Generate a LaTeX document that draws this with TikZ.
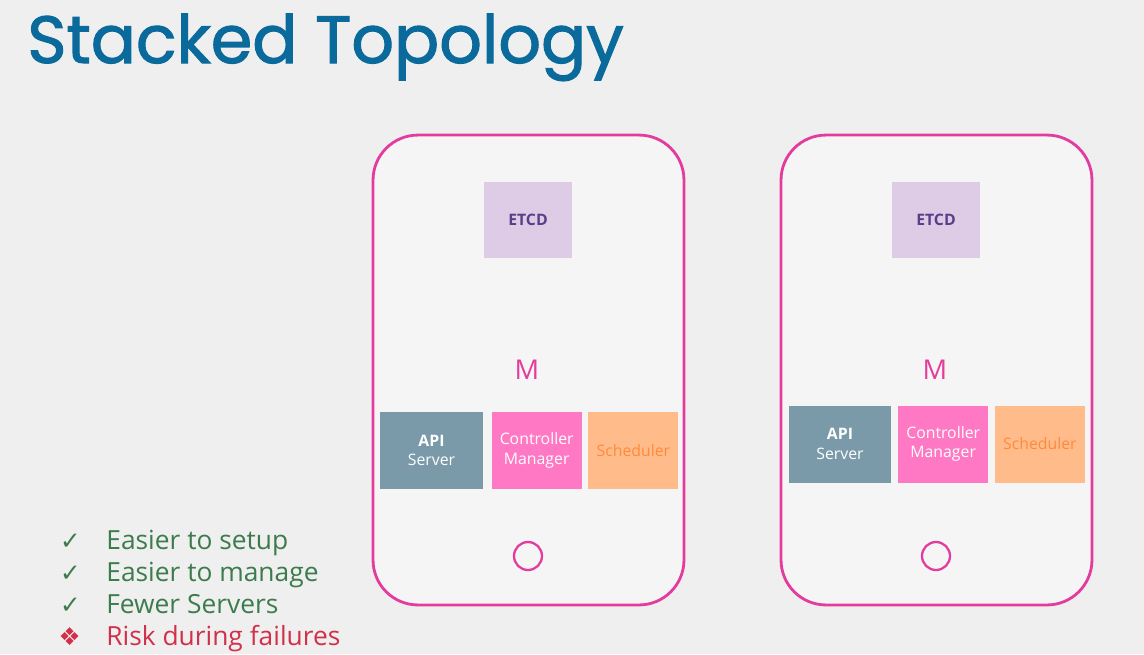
\documentclass[tikz,border=0pt]{standalone}
\usepackage{fontspec}
\setmainfont{Open Sans}
\newfontfamily\titlefont{Poppins}[FakeBold=1.6]
\newfontfamily\symfont{DejaVu Sans}
\usepackage{xcolor}
\usetikzlibrary{positioning}
\definecolor{slidebg}{HTML}{EFEFEF}
\definecolor{phonebg}{HTML}{F5F5F5}
\definecolor{magline}{HTML}{E43C9E}
\definecolor{titleblue}{HTML}{0A6A9C}
\definecolor{etcdfill}{HTML}{DECCE6}
\definecolor{etcdtext}{HTML}{5A3E8A}
\definecolor{apifill}{HTML}{7A9AAA}
\definecolor{ctrlfill}{HTML}{FF78C4}
\definecolor{schedfill}{HTML}{FFBC8A}
\definecolor{schedtext}{HTML}{FF8A3C}
\definecolor{goodgreen}{HTML}{3C7C4C}
\definecolor{riskred}{HTML}{D2304A}

\begin{document}
\begin{tikzpicture}[
    x=0.02cm,
    y=-0.02cm,
    phone/.style={draw=magline, line width=1.6pt, fill=phonebg, rounded corners=0.9cm, minimum width=6.22cm, minimum height=9.4cm},
    etcd/.style={fill=etcdfill, text=etcdtext, inner sep=0pt, minimum width=1.76cm, minimum height=1.52cm, font=\fontsize{9}{11}\selectfont\bfseries},
    part/.style={inner sep=0pt, minimum width=1.8cm, minimum height=1.54cm, align=center, font=\fontsize{9}{11}\selectfont},
    apisrv/.style={part, fill=apifill, text=white, minimum width=2.06cm},
    ctrlmgr/.style={part, fill=ctrlfill, text=white},
    sched/.style={part, fill=schedfill, text=schedtext},
    master/.style={text=magline, font=\fontsize{15.5}{18}\selectfont},
    button/.style={circle, draw=magline, line width=1.3pt, minimum size=0.56cm, inner sep=0pt},
    bullet/.style={anchor=base west, inner sep=0pt, font=\fontsize{15}{18}\selectfont},
    tick/.style={anchor=base east, inner sep=0pt, font=\symfont\fontsize{14}{16}\selectfont}
]
\useasboundingbox (0,0) rectangle (1144,654);
\fill[slidebg] (0,0) rectangle (1144,654);
\node[anchor=base west, inner sep=0pt, text=titleblue, font=\titlefont\fontsize{38}{44}\selectfont] (title) at (27,63) {Stacked Topology};
% left master
\node[phone] (p1) at (528.5,370) {};
\node[etcd] (e1) at (528,220) {ETCD};
\node[master] (m1) at (527,370) {M};
\node[apisrv] (a1) at (431.5,450.5) {\textbf{API}\\Server};
\node[ctrlmgr, right=0.16cm of a1] (c1) {Controller\\Manager};
\node[sched, right=0.12cm of c1] (s1) {Scheduler};
\node[button] (b1) at (528,556) {};
% right master
\node[phone] (p2) at (936.5,370) {};
\node[etcd] (e2) at (936,220) {ETCD};
\node[master] (m2) at (935,370) {M};
\node[apisrv] (a2) at (840,444) {\textbf{API}\\Server};
\node[ctrlmgr, right=0.12cm of a2] (c2) {Controller\\Manager};
\node[sched, right=0.12cm of c2] (s2) {Scheduler};
\node[button] (b2) at (936,556) {};
% pros and cons
\node[bullet, text=goodgreen] (l1) at (106,549) {Easier to setup};
\node[bullet, text=goodgreen] (l2) at (106,581) {Easier to manage};
\node[bullet, text=goodgreen] (l3) at (106,613) {Fewer Servers};
\node[bullet, text=riskred] (l4) at (106,645) {Risk during failures};
\foreach \n in {l1,l2,l3}
  \node[tick, text=goodgreen] at ([xshift=-0.5cm]\n.base west) {✓};
\node[tick, text=riskred] at ([xshift=-0.5cm]l4.base west) {❖};
\end{tikzpicture}
\end{document}
